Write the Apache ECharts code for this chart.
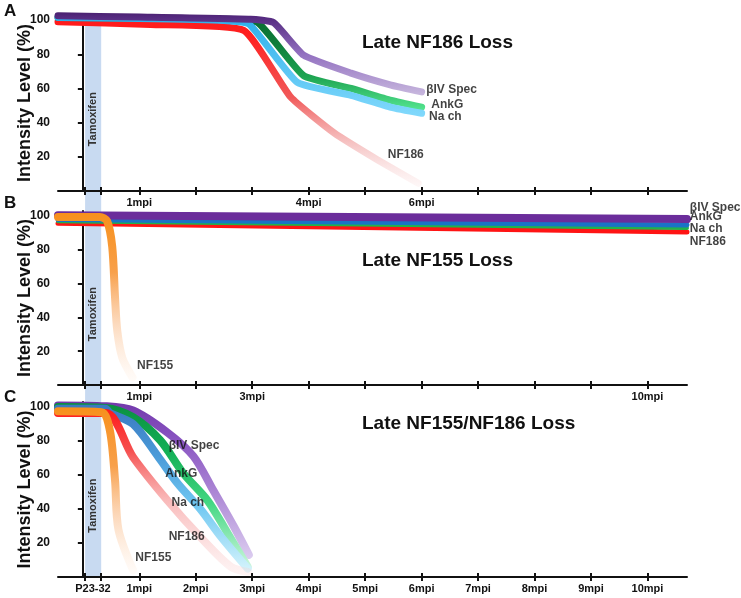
<!DOCTYPE html>
<html>
<head>
<meta charset="utf-8">
<script src="https://cdn.jsdelivr.net/npm/echarts@6/dist/echarts.min.js"></script>
<style>
html, body { margin: 0; padding: 0; background: #fff; }
#container { width: 741px; height: 598px; }
</style>
</head>
<body>
<div id="container"></div>
<script>
// x values are months post injection (mpi), y values are intensity level (%)
var aSpecX = [-0.44, 1.0, 2.97, 3.38, 3.91, 4.75, 5.46, 6.0];
var aSpecY = [102.5, 101.8, 100.5, 98.5, 79.5, 69, 62, 58];
var aAnkgX = [-0.44, 1.0, 2.5, 3.1, 3.91, 4.75, 5.46, 6.0];
var aAnkgY = [101.5, 101.2, 100.5, 98.5, 67.5, 60, 53, 49];
var aNachX = [-0.44, 1.0, 2.5, 2.95, 3.8, 4.75, 5.46, 6.0];
var aNachY = [101.5, 101, 99.8, 97.5, 63.5, 56, 49, 45.5];
var aNf186X = [-0.44, 1.2, 2.85, 3.68, 4.45, 5.23, 5.94];
var aNf186Y = [99, 97.5, 94, 55, 34, 18, 4.5];

var bX = [-0.44, 10.7];
var bSpecY = [100.5, 98.2];
var bNachY = [98, 94.7];
var bAnkgY = [97, 92.9];
var bNf186Y = [95.8, 90.5];
var bNf155X = [-0.44, 0.3, 0.43, 0.52, 0.57, 0.61, 0.7, 0.88];
var bNf155Y = [99.5, 99.5, 97, 82, 52, 32, 16, 4.5];

var cSpecX = [-0.44, 0.4, 0.89, 1.5, 1.96, 2.31, 2.67, 2.94];
var cSpecY = [101, 100.5, 98, 85, 71, 51, 30, 13];
var cAnkgX = [-0.44, 0.4, 0.89, 1.37, 1.78, 2.21, 2.56, 2.92];
var cAnkgY = [100, 99.5, 94, 80.5, 61, 45, 26, 6];
var cNachX = [-0.44, 0.4, 0.48, 0.89, 1.33, 1.68, 2.08, 2.44, 2.92];
var cNachY = [99, 99, 96.5, 90, 71, 55, 40, 24, 5];
var cNf186X = [-0.44, 0.4, 0.89, 1.5, 2.08, 2.62, 2.92];
var cNf186Y = [96.5, 96.5, 70.5, 45, 23.5, 6, 3];
var cNf155X = [-0.44, 0.33, 0.48, 0.57, 0.63, 0.89];
var cNf155Y = [97.5, 97, 86, 57, 28, 4];

// axis ticks and labels
var xTicks = [0.04, 0.325, 1, 2, 3, 4, 5, 6, 7, 8, 9, 10];
var aXLabels = [1, 4, 6];
var bXLabels = [1, 3, 10];
var cXLabels = [0.18, 1, 2, 3, 4, 5, 6, 7, 8, 9, 10];
var yTicks = [20, 40, 60, 80, 100];
var tamoxifen = [0.04, 0.325];

var panelLetters = ['A', 'B', 'C'];
var panelTitles = ['Late NF186 Loss', 'Late NF155 Loss', 'Late NF155/NF186 Loss'];

// series name labels: [x, y, text]
var aNames = [[6.08, 59.1, 'βIV Spec'], [6.17, 50.3, 'AnkG'], [6.13, 43.3, 'Na ch'], [5.40, 21.1, 'NF186']];
var bNames = [[10.75, 104.7, 'βIV Spec'], [10.75, 99.4, 'AnkG'], [10.75, 92.3, 'Na ch'], [10.75, 84.6, 'NF186'], [0.96, 11.2, 'NF155']];
var cNames = [[1.52, 77.1, 'βIV Spec'], [1.46, 60.6, 'AnkG'], [1.57, 43.5, 'Na ch'], [1.52, 23.5, 'NF186'], [0.93, 11.2, 'NF155']];

var FONT = "'Liberation Sans', Arial, sans-serif";
var dom = document.getElementById('container');
var myChart = echarts.init(dom, null, { renderer: 'canvas' });

function grad(stops) {
    return {
        type: 'linear', x: 0, y: 0, x2: 0, y2: 1,
        colorStops: stops.map(function (s) { return { offset: s[0], color: s[1] }; })
    };
}

function line(g, name, xs, ys, width, color, smooth) {
    return {
        type: 'line',
        name: name,
        xAxisIndex: g,
        yAxisIndex: g,
        data: xs.map(function (x, i) { return [x, ys[i]]; }),
        showSymbol: false,
        symbol: 'none',
        smooth: smooth || false,
        lineStyle: { width: width, color: color, cap: 'round', join: 'round' },
        silent: true
    };
}

function names(g, list) {
    return {
        type: 'scatter',
        xAxisIndex: g,
        yAxisIndex: g,
        clip: false,
        symbolSize: 0,
        silent: true,
        data: list.map(function (d) { return { value: [d[0], d[1]], name: d[2] }; }),
        label: {
            show: true, position: 'right', distance: 0, formatter: '{b}',
            fontFamily: FONT, fontWeight: 'bold', fontSize: 12, color: '#111'
        },
        z: 5
    };
}

var gridBoxes = [
    { left: 58, right: 54, top: 15, height: 176 },
    { left: 58, right: 54, top: 211, height: 174 },
    { left: 58, right: 54, top: 402, height: 175 }
];
var xLabelSets = [aXLabels, bXLabels, cXLabels];

var xAxes = [], overlayAxes = [], yAxes = [];
gridBoxes.forEach(function (b, i) {
    xAxes.push({
        type: 'value', gridIndex: i, position: 'bottom', min: -0.44, max: 10.7,
        splitLine: { show: false },
        axisLine: { lineStyle: { color: '#111', width: 2 } },
        axisTick: { customValues: xTicks, length: 4, lineStyle: { color: '#111', width: 2 } },
        axisLabel: {
            customValues: xLabelSets[i],
            formatter: function (v) { return v < 0.5 ? 'P23-32' : Math.round(v) + 'mpi'; },
            fontFamily: FONT, fontWeight: 'bold', fontSize: 11, color: '#111', margin: 6
        }
    });
    overlayAxes.push({
        type: 'value', gridIndex: i, position: 'bottom', min: -0.44, max: 10.7,
        splitLine: { show: false },
        axisLine: { show: false },
        axisTick: { inside: true, customValues: xTicks, length: 4, lineStyle: { color: '#111', width: 2 } },
        axisLabel: { show: false }
    });
    yAxes.push({
        type: 'value', gridIndex: i, min: 0, max: 103,
        splitLine: { show: false },
        axisLine: { show: true, lineStyle: { color: '#111', width: 2 } },
        axisTick: { show: true, customValues: yTicks, length: 5, lineStyle: { color: '#111', width: 2 } },
        axisLabel: {
            customValues: yTicks, fontFamily: FONT, fontWeight: 'bold', fontSize: 12, color: '#111', margin: 8
        },
        name: 'Intensity Level (%)',
        nameLocation: 'middle',
        nameGap: 24,
        nameMoveOverlap: false,
        nameTextStyle: { fontFamily: FONT, fontWeight: 'bold', fontSize: 18, color: '#111' }
    });
});

var titles = [];
var letterTops = [3, 195, 389];
var titleTops = [33, 251, 414];
panelLetters.forEach(function (t, i) {
    titles.push({ text: t, left: 4, top: letterTops[i], padding: 0,
        textStyle: { fontFamily: FONT, fontWeight: 'bold', fontSize: 17, color: '#111' } });
});
panelTitles.forEach(function (t, i) {
    titles.push({ text: t, left: 362, top: titleTops[i], padding: 0,
        textStyle: { fontFamily: FONT, fontWeight: 'bold', fontSize: 19, color: '#111' } });
});

var series = [
    // A
    line(0, 'NF186', aNf186X, aNf186Y, 7, grad([[0, '#ff1a1a'], [0.1, '#ff2020'], [0.47, 'rgba(240,80,80,0.95)'], [0.75, 'rgba(240,160,160,0.6)'], [1, 'rgba(248,215,215,0.2)']]), 0.15),
    line(0, 'AnkG', aAnkgX, aAnkgY, 7, grad([[0, '#0a6a30'], [0.3, '#0e7d3a'], [0.65, '#1ea552'], [1, '#55e691']]), 0.15),
    line(0, 'Na ch', aNachX, aNachY, 7, grad([[0, '#2aaeea'], [1, '#82d9fc']]), 0.15),
    line(0, 'βIV Spec', aSpecX, aSpecY, 7, grad([[0, '#4a2170'], [0.06, '#552a80'], [0.5, '#9270c0'], [1, '#c8b8de']]), 0.15),
    names(0, aNames),
    // B
    line(1, 'NF186', bX, bNf186Y, 5, '#ff1414'),
    line(1, 'AnkG', bX, bAnkgY, 4, '#20b24c'),
    line(1, 'Na ch', bX, bNachY, 5, '#1a73c6'),
    line(1, 'βIV Spec', bX, bSpecY, 8, '#6b2d9b'),
    line(1, 'NF155', bNf155X, bNf155Y, 8, grad([[0, '#f7901c'], [0.35, '#f8a04a'], [0.65, 'rgba(250,190,140,0.6)'], [1, 'rgba(255,230,210,0.15)']]), 0.3),
    names(1, bNames),
    // C
    line(2, 'βIV Spec', cSpecX, cSpecY, 8, grad([[0, '#7238ab'], [0.25, '#8a55c2'], [0.6, '#ae8ad6'], [1, '#dccdf0']]), 0.3),
    line(2, 'AnkG', cAnkgX, cAnkgY, 8, grad([[0, '#0a8f40'], [0.3, '#14b157'], [0.6, '#45d884'], [1, '#d5f8e2']]), 0.3),
    line(2, 'Na ch', cNachX, cNachY, 8, grad([[0, '#3a78c0'], [0.3, '#4a9ad8'], [0.6, '#70c8f2'], [1, '#d8f5fc']]), 0.3),
    line(2, 'NF186', cNf186X, cNf186Y, 8, grad([[0, '#ff1a1a'], [0.25, 'rgba(245,70,70,0.95)'], [0.55, 'rgba(245,140,140,0.6)'], [1, 'rgba(250,210,210,0.25)']]), 0.3),
    line(2, 'NF155', cNf155X, cNf155Y, 8, grad([[0, '#f7901c'], [0.35, '#f8a04a'], [0.65, 'rgba(250,190,140,0.6)'], [1, 'rgba(255,230,210,0.15)']]), 0.3),
    names(2, cNames)
];

var option = {
    animation: false,
    backgroundColor: '#fff',
    title: titles,
    grid: gridBoxes.map(function (b) { return Object.assign({ outerBoundsMode: 'none', containLabel: false }, b); }),
    xAxis: xAxes.concat(overlayAxes),
    yAxis: yAxes,
    series: series
};

myChart.setOption(option);

// tamoxifen band spans all three panels; placed through the axes' own scales
var p1 = myChart.convertToPixel({ gridIndex: 0 }, [tamoxifen[0], 103]);
var p2 = myChart.convertToPixel({ gridIndex: 2 }, [tamoxifen[1], 0]);
var bandCenter = (p1[0] + p2[0]) / 2;
var graphics = [{
    type: 'rect', z: -1, silent: true,
    shape: { x: p1[0], y: p1[1], width: p2[0] - p1[0], height: p2[1] - p1[1] },
    style: { fill: '#c8daf1' }
}];
[0, 1, 2].forEach(function (g) {
    var p = myChart.convertToPixel({ gridIndex: g }, [0, 42]);
    graphics.push({
        type: 'text', z: 1, silent: true,
        x: bandCenter, y: p[1], rotation: Math.PI / 2,
        style: {
            text: 'Tamoxifen', align: 'center', verticalAlign: 'middle',
            fontFamily: FONT, fontWeight: 'bold', fontSize: 11, fill: '#333'
        }
    });
});
myChart.setOption({ graphic: graphics });

window.addEventListener('resize', myChart.resize);
</script>
</body>
</html>
